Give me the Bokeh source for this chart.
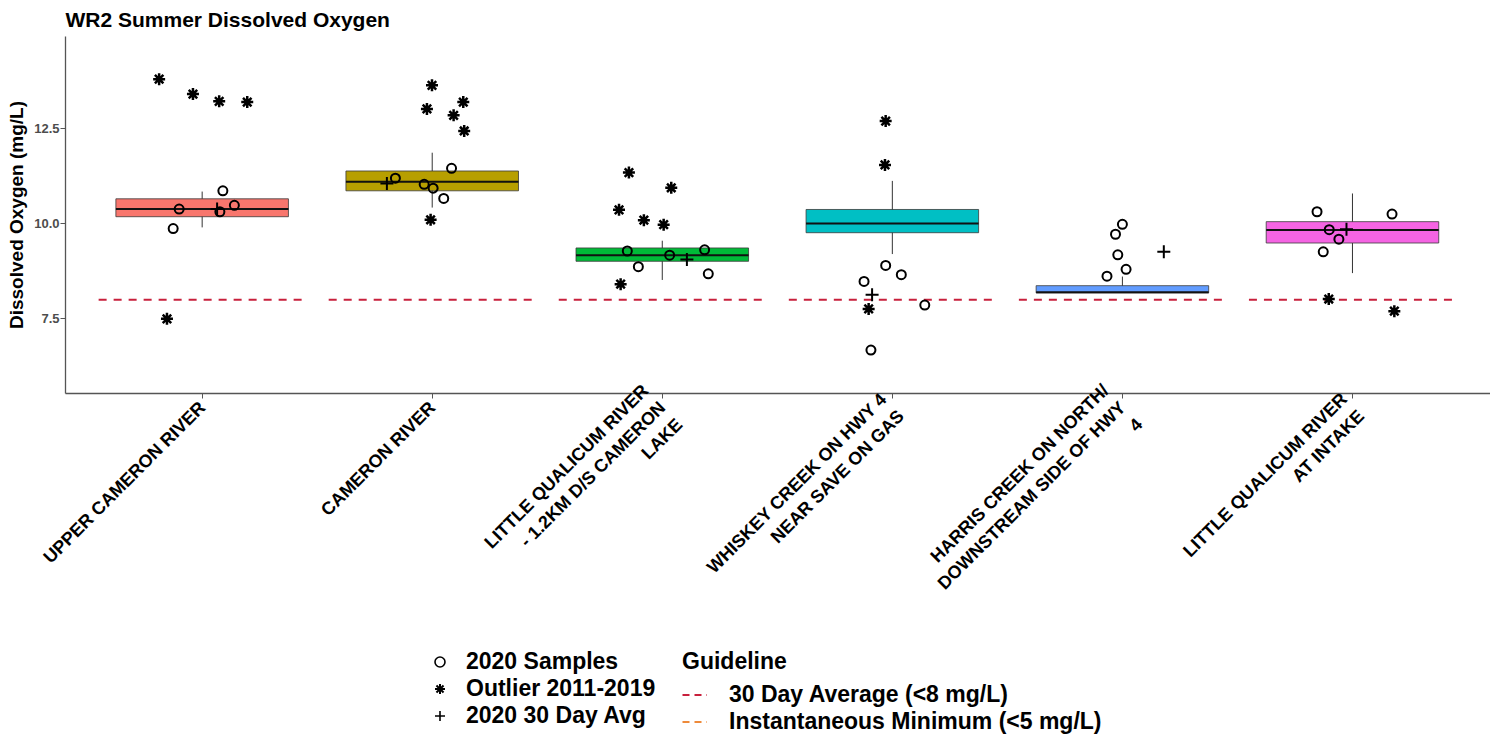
import numpy as np
from bokeh.plotting import figure
from bokeh.layouts import column
from bokeh.models import (Range1d, FixedTicker, Legend, LegendItem,
                          NumeralTickFormatter)
from bokeh.embed import file_html
from bokeh.resources import INLINE

# ---------------- data ----------------
site_idx = [1, 2, 3, 4, 5, 6]
site_labels = [
    "UPPER CAMERON RIVER",
    "CAMERON RIVER",
    "LITTLE QUALICUM RIVER\n- 1.2KM D/S CAMERON\nLAKE",
    "WHISKEY CREEK ON HWY 4\nNEAR SAVE ON GAS",
    "HARRIS CREEK ON NORTH/\nDOWNSTREAM SIDE OF HWY\n4",
    "LITTLE QUALICUM RIVER\nAT INTAKE",
]
box_colors = ["#F8766D", "#B79F00", "#00BA38", "#00BFC4", "#619CFF", "#F564E3"]

# box statistics 2011-2019 (mg/L)
q1 = [10.18, 10.86, 9.01, 9.76, 8.18, 9.49]
med = [10.38, 11.10, 9.17, 10.00, 8.20, 9.83]
q3 = [10.65, 11.38, 9.36, 10.37, 8.37, 10.05]
whisk_lo = [9.90, 10.42, 8.52, 9.20, 8.18, 8.70]
whisk_hi = [10.84, 11.86, 9.55, 11.12, 8.61, 10.79]

# 2020 samples (site, jitter offset, value)
samp_site = [1, 1, 1, 1, 1, 2, 2, 2, 2, 2, 3, 3, 3, 3, 3,
             4, 4, 4, 4, 4, 5, 5, 5, 5, 5, 6, 6, 6, 6, 6]
samp_jit = [-0.126, -0.100, 0.090, 0.077, 0.140,
            0.084, -0.160, -0.035, 0.004, 0.050,
            -0.152, -0.104, 0.032, 0.184, 0.200,
            -0.029, 0.039, -0.123, 0.141, -0.093,
            0.000, -0.030, -0.020, 0.016, -0.067,
            -0.154, 0.172, -0.101, -0.059, -0.127]
samp_val = [9.87, 10.38, 10.86, 10.31, 10.48,
            11.45, 11.19, 11.03, 10.93, 10.66,
            9.28, 8.87, 9.17, 9.31, 8.68,
            8.90, 8.66, 8.48, 7.86, 6.68,
            9.98, 9.72, 9.18, 8.80, 8.62,
            10.31, 10.25, 9.84, 9.59, 9.26]

# outliers 2011-2019
out_site = [1, 1, 1, 1, 1, 2, 2, 2, 2, 2, 2, 3, 3, 3, 3, 3, 3, 4, 4, 4, 6, 6]
out_jit = [-0.187, -0.040, 0.074, 0.196, -0.153,
           -0.001, -0.023, 0.135, 0.093, 0.139, -0.007,
           -0.145, 0.039, -0.188, -0.080, 0.006, -0.181,
           -0.029, -0.032, -0.103,
           -0.103, 0.182]
out_val = [13.79, 13.40, 13.21, 13.19, 7.50,
           13.63, 13.01, 13.19, 12.84, 12.43, 10.10,
           11.34, 10.94, 10.36, 10.09, 9.97, 8.41,
           12.69, 11.54, 7.76,
           8.02, 7.70]

# 2020 30-day average
avg_site = [1, 2, 3, 4, 5, 6]
avg_jit = [0.065, -0.197, 0.107, -0.088, 0.180, -0.026]
avg_val = [10.38, 11.05, 9.06, 8.13, 9.26, 9.85]

# guidelines
guide_30day = [8, 8, 8, 8, 8, 8]
guide_inst = [5, 5, 5, 5, 5, 5]

# ---------------- styles ----------------
FONT = "Liberation Sans"
BOX_W = 0.75
GUIDE_HALF = 0.45
RED = "#C8203C"
ORANGE = "#EE8A3A"
W = 1490

p = figure(width=W, height=646, output_backend="svg", toolbar_location=None,
           x_range=Range1d(0.406, 6.600), y_range=Range1d(5.54, 14.91),
           min_border_left=65, min_border_right=0, min_border_top=35,
           min_border_bottom=253)
p.background_fill_color = "white"
p.border_fill_color = "white"
p.outline_line_color = None
p.xgrid.visible = False
p.ygrid.visible = False

p.title.text = "WR2 Summer Dissolved Oxygen"
p.title.text_font = FONT
p.title.text_font_size = "21px"
p.title.text_font_style = "bold"
p.title.text_color = "black"
p.title.align = "left"
p.title.offset = 0
p.title.standoff = 11

sx = np.array(site_idx, dtype=float)

# whiskers
p.segment(x0=sx, x1=sx, y0=whisk_lo, y1=whisk_hi, line_color="#333333", line_width=1)
# boxes
p.vbar(x=sx, width=BOX_W, bottom=q1, top=q3, fill_color=box_colors,
       line_color="#3a3a3a", line_width=0.8)
# medians
p.segment(x0=sx - BOX_W / 2, x1=sx + BOX_W / 2, y0=med, y1=med,
          line_color="#111111", line_width=2)

# guidelines
p.segment(x0=sx - GUIDE_HALF, x1=sx + GUIDE_HALF, y0=guide_30day, y1=guide_30day,
          line_color=RED, line_width=2, line_dash="8 7")
p.segment(x0=sx - GUIDE_HALF, x1=sx + GUIDE_HALF, y0=guide_inst, y1=guide_inst,
          line_color=ORANGE, line_width=2, line_dash="8 7")

# points
samp_x = [s + j for s, j in zip(samp_site, samp_jit)]
out_x = [s + j for s, j in zip(out_site, out_jit)]
avg_x = [s + j for s, j in zip(avg_site, avg_jit)]

SAMP_STYLE = dict(marker="circle", size=9, fill_color=None, line_color="black", line_width=2)
OUT_STYLE = dict(marker="asterisk", size=12, line_color="black", line_width=2.5)
AVG_STYLE = dict(marker="cross", size=13, line_color="black", line_width=2)

p.scatter(samp_x, samp_val, **SAMP_STYLE)
p.scatter(out_x, out_val, **OUT_STYLE)
p.scatter(avg_x, avg_val, **AVG_STYLE)

# ---------------- axes ----------------
for ax in (p.xaxis[0], p.yaxis[0]):
    ax.axis_line_color = "#555555"
    ax.axis_line_width = 1.3
    ax.major_tick_line_color = "#555555"
    ax.major_tick_out = 5
    ax.major_tick_in = 0
    ax.minor_tick_line_color = None

p.yaxis.ticker = FixedTicker(ticks=[7.5, 10.0, 12.5])
p.yaxis.formatter = NumeralTickFormatter(format="0.0")
p.yaxis.major_label_text_font = FONT
p.yaxis.major_label_text_font_size = "13px"
p.yaxis.major_label_text_font_style = "bold"
p.yaxis.major_label_text_color = "#4d4d4d"
p.yaxis.major_label_standoff = 1
p.yaxis.axis_label = "Dissolved Oxygen (mg/L)"
p.yaxis.axis_label_text_font = FONT
p.yaxis.axis_label_text_font_size = "19px"
p.yaxis.axis_label_text_font_style = "bold"
p.yaxis.axis_label_text_color = "black"
p.yaxis.axis_label_standoff = 4

p.xaxis.ticker = FixedTicker(ticks=site_idx)
p.xaxis.major_label_overrides = {i: lab for i, lab in zip(site_idx, site_labels)}
p.xaxis.major_label_orientation = np.pi / 4
p.xaxis.major_label_text_font = FONT
p.xaxis.major_label_text_font_size = "18px"
p.xaxis.major_label_text_font_style = "bold"
p.xaxis.major_label_text_color = "black"
p.xaxis.major_label_standoff = 6

# ---------------- legend panel ----------------
LH = 89
q = figure(width=W, height=LH, output_backend="svg", toolbar_location=None,
           x_range=Range1d(0, 1), y_range=Range1d(0, 1),
           x_axis_type=None, y_axis_type=None,
           min_border_left=0, min_border_right=0, min_border_top=0, min_border_bottom=0)
q.outline_line_color = None
q.background_fill_color = "white"
q.border_fill_color = "white"

# legend proxies (first record of each series; outside this panel's ranges)
l_samp = q.scatter(samp_x[:1], samp_val[:1], marker="circle", fill_color=None,
                   line_color="black", line_width=1.6)
l_out = q.scatter(out_x[:1], out_val[:1], marker="asterisk",
                  line_color="black", line_width=2)
l_avg = q.scatter(avg_x[:1], avg_val[:1], marker="cross",
                  line_color="black", line_width=1.6)
l_g30 = q.segment(x0=sx[:1], x1=sx[:1], y0=guide_30day[:1], y1=guide_30day[:1],
                  line_color=RED, line_width=2, line_dash="7 5")
l_gin = q.segment(x0=sx[:1], x1=sx[:1], y0=guide_inst[:1], y1=guide_inst[:1],
                  line_color=ORANGE, line_width=2, line_dash="7 5")

legA = Legend(items=[LegendItem(label="2020 Samples", renderers=[l_samp]),
                     LegendItem(label="Outlier 2011-2019", renderers=[l_out]),
                     LegendItem(label="2020 30 Day Avg", renderers=[l_avg])],
              location=(362, 6))
legB = Legend(items=[LegendItem(label="30 Day Average (<8 mg/L)", renderers=[l_g30]),
                     LegendItem(label="Instantaneous Minimum (<5 mg/L)", renderers=[l_gin])],
              location=(617, 0), title="Guideline")
for lg, stand in ((legA, 14), (legB, 22)):
    lg.label_text_font = FONT
    lg.label_text_font_size = "23px"
    lg.label_text_font_style = "bold"
    lg.label_text_color = "black"
    lg.glyph_width = 25
    lg.glyph_height = 25
    lg.label_height = 24
    lg.label_standoff = stand
    lg.spacing = 0
    lg.padding = 0
    lg.margin = 0
    lg.border_line_color = None
    lg.background_fill_alpha = 0
legB.title_text_font = FONT
legB.title_text_font_size = "23px"
legB.title_text_font_style = "bold"
legB.title_text_color = "black"
legB.title_standoff = 6
q.add_layout(legA)
q.add_layout(legB)

layout = column(p, q, spacing=0)
open("out.html", "w").write(file_html(layout, INLINE))
